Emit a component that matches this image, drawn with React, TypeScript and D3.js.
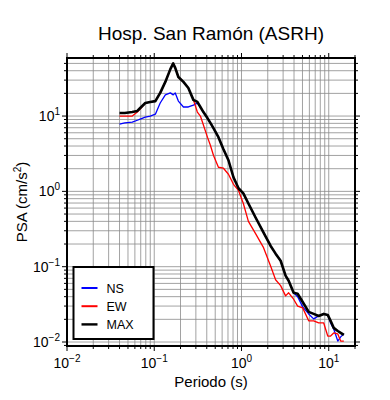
import * as d3 from 'd3';
import React from 'react';

// Periods (s) and spectral accelerations (cm/s2)
const periods = [
    0.040, 0.046, 0.056, 0.064, 0.069, 0.079, 0.090, 0.103, 0.117, 0.134,
    0.153, 0.165, 0.174, 0.189, 0.216, 0.246, 0.281, 0.312, 0.338, 0.366,
    0.407, 0.440, 0.477, 0.544, 0.621, 0.709, 0.809, 0.924, 1.05, 1.20,
    1.45, 1.79, 2.15, 2.46, 2.81, 3.20, 3.47, 3.96, 4.40, 5.03,
    5.89, 6.72, 7.67, 8.76, 9.74, 10.5, 11.4, 12.7, 13.7, 14.9,
];

const nsValues = [
    7.8, 8.1, 8.3, 8.8, 9.1, 9.7, 10.0, 10.6, 14.9, 19.1,
    20.3, 19.1, 20.3, 15.8, 13.2, 13.2, 14.0, 14.9, 13.2, 11.3,
    9.4, 8.1, 6.9, 5.25, 3.63, 2.59, 1.54, 1.10, 0.94, 0.69,
    0.45, 0.284, 0.19, 0.149, 0.120, 0.076, 0.065, 0.045, 0.040, 0.0293,
    0.0236, 0.0203, 0.0222, 0.0236, 0.0229, 0.0179, 0.0149, 0.0103, 0.0117, 0.0128,
];

const ewValues = [
    10.0, 10.0, 10.0, 11.3, 12.4, 14.9, 15.4, 15.8, 20.3, 28.4,
    42.0, 50.0, 43.6, 33.0, 28.4, 23.6, 16.4, 11.3, 10.0, 7.6,
    5.25, 4.1, 3.02, 2.09, 2.03, 1.69, 1.24, 1.03, 0.69, 0.40,
    0.275, 0.179, 0.103, 0.067, 0.056, 0.041, 0.045, 0.037, 0.030, 0.0284,
    0.0191, 0.0191, 0.0179, 0.0179, 0.0120, 0.0120, 0.0132, 0.0128, 0.0103, 0.0103,
];

const maxValues = [
    11.0, 11.0, 11.3, 11.7, 12.8, 14.9, 15.4, 15.8, 20.3, 28.4,
    42.0, 50.0, 43.6, 33.0, 28.4, 23.6, 16.4, 15.4, 13.2, 11.3,
    9.4, 8.1, 6.9, 5.25, 3.63, 2.59, 1.54, 1.10, 0.94, 0.69,
    0.45, 0.284, 0.19, 0.149, 0.120, 0.076, 0.065, 0.045, 0.0437, 0.034,
    0.0251, 0.0236, 0.0222, 0.0236, 0.0229, 0.0191, 0.0154, 0.0140, 0.0132, 0.0124,
];

const seriesNames = ['NS', 'EW', 'MAX'];
const seriesColors = ['#0000ff', '#ff0000', '#000000'];
const seriesWidths = [1.3, 1.3, 2.6];

const title = 'Hosp. San Ramón (ASRH)';
const xTitle = 'Periodo (s)';

const font = '"Liberation Sans", Arial, Helvetica, sans-serif';

// Basic sizes
const width = 390;
const height = 400;
const margin = { top: 58, right: 35, bottom: 54, left: 67 };
const plotRight = width - margin.right;
const plotBottom = height - margin.bottom;

const x = d3.scaleLog().domain([0.01, 20]).range([margin.left, plotRight]);
const y = d3.scaleLog().domain([0.00885, 59]).range([plotBottom, margin.top]);

const isDecade = (v: number) => Math.abs(Math.log10(v) - Math.round(Math.log10(v))) < 1e-6;

const supMinus = (e: number) => (e < 0 ? '\u2212' + Math.abs(e) : String(e));

function App() {
    const xTicks = x.ticks();
    const yTicks = y.ticks();

    const line = d3.line<[number, number]>()
        .x((d) => x(d[0]))
        .y((d) => y(d[1]));

    const series = [nsValues, ewValues, maxValues].map((vals) => d3.zip(periods, vals) as [number, number][]);

    // legend box
    const lg = { x: 73.5, y: 267, w: 80, h: 72 };

    return (
        <svg width={width} height={height} style={{ position: 'absolute', left: 0, top: 0, background: 'white' }} fontFamily={font}>
            <rect width={width} height={height} fill="white" />

            {/* grid */}
            <g stroke="#8a8a8a" strokeWidth={0.8}>
                {xTicks.map((t, i) => (
                    <line key={'gx' + i} x1={x(t)} x2={x(t)} y1={margin.top} y2={plotBottom} />
                ))}
                {yTicks.map((t, i) => (
                    <line key={'gy' + i} x1={margin.left} x2={plotRight} y1={y(t)} y2={y(t)} />
                ))}
            </g>

            {/* curves */}
            {series.map((s, i) => (
                <path key={seriesNames[i]} d={line(s) || ''} fill="none" stroke={seriesColors[i]}
                    strokeWidth={seriesWidths[i]} strokeLinejoin="round" />
            ))}

            {/* ticks outside the frame */}
            <g stroke="black" strokeWidth={1}>
                {xTicks.map((t, i) => {
                    const len = isDecade(t) ? 5 : 3;
                    return (
                        <g key={'tx' + i}>
                            <line x1={x(t)} x2={x(t)} y1={margin.top} y2={margin.top - len} />
                            <line x1={x(t)} x2={x(t)} y1={plotBottom} y2={plotBottom + len} />
                        </g>
                    );
                })}
                {yTicks.map((t, i) => {
                    const len = isDecade(t) ? 5 : 3;
                    return (
                        <g key={'ty' + i}>
                            <line x1={margin.left} x2={margin.left - len} y1={y(t)} y2={y(t)} />
                            <line x1={plotRight} x2={plotRight + len} y1={y(t)} y2={y(t)} />
                        </g>
                    );
                })}
            </g>

            {/* frame */}
            <rect x={margin.left} y={margin.top} width={plotRight - margin.left} height={plotBottom - margin.top}
                fill="none" stroke="black" strokeWidth={2} />

            {/* x tick labels */}
            {xTicks.filter(isDecade).map((t, i) => (
                <text key={'lx' + i} x={x(t)} y={plotBottom + 22} textAnchor="middle" fontSize={14}>
                    10<tspan fontSize={10} dy={-6}>{supMinus(Math.round(Math.log10(t)))}</tspan>
                </text>
            ))}

            {/* y tick labels */}
            {yTicks.filter(isDecade).map((t, i) => (
                <text key={'ly' + i} x={margin.left - 7} y={y(t) + 5} textAnchor="end" fontSize={14}>
                    10<tspan fontSize={10} dy={-6}>{supMinus(Math.round(Math.log10(t)))}</tspan>
                </text>
            ))}

            {/* titles */}
            <text x={(margin.left + plotRight) / 2} y={40} textAnchor="middle" fontSize={19}>{title}</text>
            <text x={(margin.left + plotRight) / 2} y={387} textAnchor="middle" fontSize={15}>{xTitle}</text>
            <text transform={`translate(27,${(margin.top + plotBottom) / 2}) rotate(-90)`} textAnchor="middle" fontSize={15}>
                PSA (cm/s<tspan fontSize={10} dy={-6}>2</tspan><tspan dy={6}>)</tspan>
            </text>

            {/* legend */}
            <rect x={lg.x} y={lg.y} width={lg.w} height={lg.h} fill="white" stroke="black" strokeWidth={2} />
            {seriesNames.map((name, i) => {
                const ly = lg.y + 21 + i * 18.2;
                return (
                    <g key={'lg' + name}>
                        <line x1={lg.x + 8} x2={lg.x + 24} y1={ly} y2={ly} stroke={seriesColors[i]} strokeWidth={i === 2 ? 2.4 : 2} />
                        <text x={lg.x + 33} y={ly + 4.5} fontSize={12.5}>{name}</text>
                    </g>
                );
            })}
        </svg>
    );
}

export default App;
